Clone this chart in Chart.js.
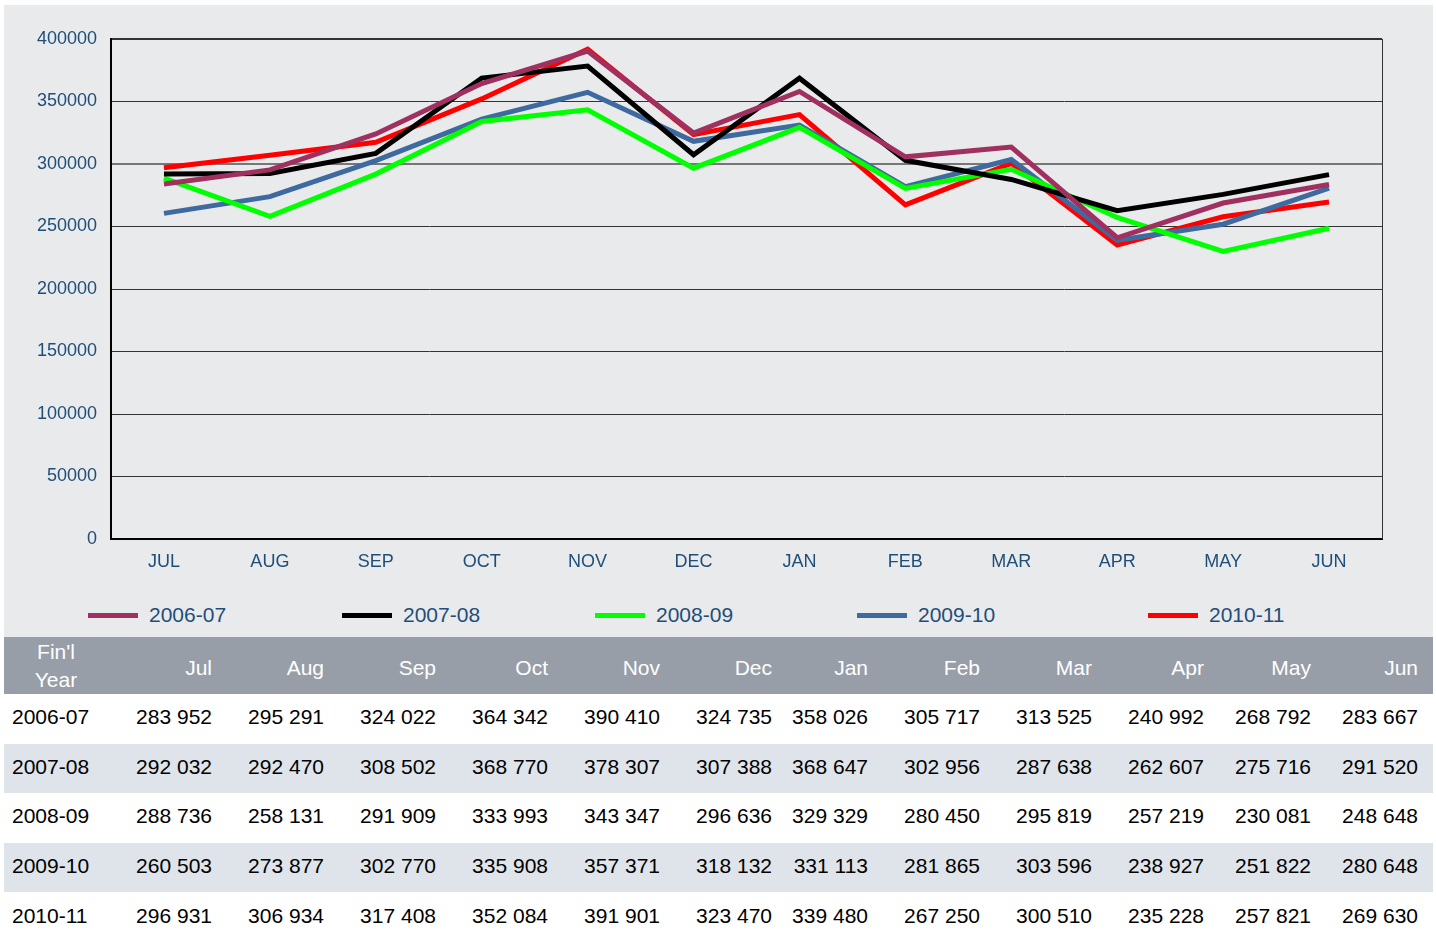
<!DOCTYPE html>
<html>
<head>
<meta charset="utf-8">
<script src="https://cdn.jsdelivr.net/npm/chart.js@4.4.1/dist/chart.umd.min.js"></script>
<style>
  body { margin: 0; background: #fff; font-family: "Liberation Sans", Arial, sans-serif; }
  #panel { position: absolute; left: 4px; top: 5px; width: 1429px; height: 632px; background: #e9eaec; }
  #chartBox { position: absolute; left: 0; top: 0; width: 1429px; height: 585px; }
  #legend .item { position: absolute; top: 595px; height: 30px; display: flex; align-items: center; }
  #legend .swatch { width: 50px; height: 5px; margin-right: 11px; }
  #legend .label { font-size: 21px; color: #1f4e79; }
  table { position: absolute; left: 4px; top: 637px; border-collapse: collapse; table-layout: fixed; width: 1429px; font-size: 21px; }
  th { background: #979ea8; color: #fff; font-weight: normal; height: 53px; text-align: right; padding: 4px 0 0 0; }
  th.first { text-align: center; line-height: 28px; padding: 0; height: 57px; }
  td { height: 46.6px; padding: 0 0 3px 0; text-align: right; color: #000; }
  td.first { text-align: left; padding-left: 8px; }
  tr.alt td { background: #dfe4ea; }
  th.last, td.last { padding-right: 15px; }
</style>
</head>
<body>
<div id="panel">
  <div id="chartBox"><canvas id="chart"></canvas></div>
  <div id="legend"></div>
</div>
<table id="dataTable"></table>
<script>
// Monthly values per financial year
const months = ['JUL', 'AUG', 'SEP', 'OCT', 'NOV', 'DEC', 'JAN', 'FEB', 'MAR', 'APR', 'MAY', 'JUN'];
const years = ['2006-07', '2007-08', '2008-09', '2009-10', '2010-11'];
const fy0607 = [283952, 295291, 324022, 364342, 390410, 324735, 358026, 305717, 313525, 240992, 268792, 283667];
const fy0708 = [292032, 292470, 308502, 368770, 378307, 307388, 368647, 302956, 287638, 262607, 275716, 291520];
const fy0809 = [288736, 258131, 291909, 333993, 343347, 296636, 329329, 280450, 295819, 257219, 230081, 248648];
const fy0910 = [260503, 273877, 302770, 335908, 357371, 318132, 331113, 281865, 303596, 238927, 251822, 280648];
const fy1011 = [296931, 306934, 317408, 352084, 391901, 323470, 339480, 267250, 300510, 235228, 257821, 269630];
const yTicks = [0, 50000, 100000, 150000, 200000, 250000, 300000, 350000, 400000];

const seriesValues = [fy0607, fy0708, fy0809, fy0910, fy1011];
const seriesColors = ['#a03060', '#000000', '#00ff00', '#3e6aa0', '#ff0000'];

// layout bits
const legendLeft = [84, 338, 591, 853, 1144];
const colWidths = [104, 104, 112, 112, 112, 112, 112, 96, 112, 112, 112, 107, 122];

// Chart
const frameLines = {
    id: 'frameLines',
    afterDatasetsDraw(chart) {
        const { ctx, chartArea: a } = chart;
        ctx.save();
        ctx.strokeStyle = '#333';
        ctx.lineWidth = 1;
        ctx.beginPath();
        ctx.moveTo(a.right + 0.5, a.top);
        ctx.lineTo(a.right + 0.5, a.bottom);
        ctx.stroke();
        ctx.restore();
    }
};

new Chart(document.getElementById('chart').getContext('2d'), {
    type: 'line',
    data: {
        labels: months,
        datasets: years.map((y, i) => ({
            label: y,
            data: seriesValues[i],
            borderColor: seriesColors[i],
            backgroundColor: seriesColors[i],
            borderWidth: 5,
            pointRadius: 0,
            tension: 0,
            fill: false
        }))
    },
    options: {
        responsive: true,
        maintainAspectRatio: false,
        animation: false,
        layout: { padding: { top: 34, right: 51, left: 0, bottom: 0 } },
        plugins: { legend: { display: false }, tooltip: { enabled: false } },
        scales: {
            x: {
                offset: true,
                grid: { display: false, drawTicks: false },
                border: { color: '#000', width: 2 },
                ticks: { color: '#1f4e79', font: { family: 'Liberation Sans', size: 18 }, padding: 12, maxRotation: 0 },
                afterFit: (scale) => { scale.height = 51; }
            },
            y: {
                min: yTicks[0],
                max: yTicks[yTicks.length - 1],
                afterBuildTicks: (scale) => { scale.ticks = yTicks.map(v => ({ value: v })); },
                grid: {
                    drawTicks: false,
                    color: (c) => c.tick && c.tick.value === 300000 ? '#777' : '#333',
                    lineWidth: (c) => c.tick && (c.tick.value === 300000 || c.tick.value === 400000) ? 2 : 1
                },
                border: { color: '#000', width: 2 },
                ticks: {
                    color: '#1f4e79',
                    font: { family: 'Liberation Sans', size: 18 },
                    padding: 14,
                    callback: (v) => String(v)
                },
                afterFit: (scale) => { scale.width = 107; }
            }
        }
    },
    plugins: [frameLines]
});

// Legend
const legend = document.getElementById('legend');
years.forEach((y, i) => {
    const item = document.createElement('div');
    item.className = 'item';
    item.style.left = legendLeft[i] + 'px';
    item.innerHTML = `<div class="swatch" style="background:${seriesColors[i]}"></div><span class="label">${y}</span>`;
    legend.appendChild(item);
});

// Table
const fmt = (n) => String(n).replace(/\B(?=(\d{3})+(?!\d))/g, ' ');
const table = document.getElementById('dataTable');
let html = '<colgroup>' + colWidths.map(w => `<col style="width:${w}px">`).join('') + '</colgroup>';
html += '<tr><th class="first">Fin\'l<br>Year</th>' +
    months.map((m, j) => `<th${j === months.length - 1 ? ' class="last"' : ''}>${m[0] + m.slice(1).toLowerCase()}</th>`).join('') + '</tr>';
years.forEach((y, i) => {
    html += `<tr${i % 2 ? ' class="alt"' : ''}><td class="first">${y}</td>` +
        seriesValues[i].map((v, j) => `<td${j === months.length - 1 ? ' class="last"' : ''}>${fmt(v)}</td>`).join('') + '</tr>';
});
table.innerHTML = html;
</script>
</body>
</html>
